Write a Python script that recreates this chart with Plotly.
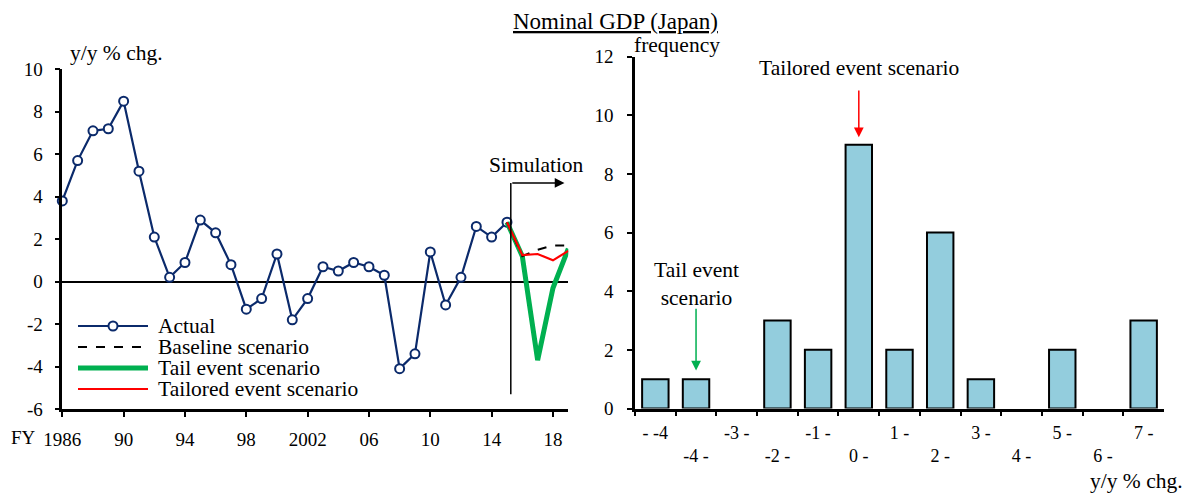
import plotly.graph_objects as go

# left panel: nominal GDP, y/y % chg.
years = list(range(1986, 2016))
actual = [3.8, 5.7, 7.1, 7.2, 8.5, 5.2, 2.1, 0.2, 0.9, 2.9, 2.3, 0.8, -1.3, -0.8, 1.3,
          -1.8, -0.8, 0.7, 0.5, 0.9, 0.7, 0.3, -4.1, -3.4, 1.4, -1.1, 0.2, 2.6, 2.1, 2.8]
sim_years = [2015, 2016, 2017, 2018, 2019]
baseline = [2.8, 1.2, 1.5, 1.7, 1.7]
tail = [2.8, 1.2, -3.7, -0.3, 1.55]
tailored = [2.8, 1.25, 1.3, 1.0, 1.45]
year_ticks = [1986, 1990, 1994, 1998, 2002, 2006, 2010, 2014, 2018]
year_labels = ["1986", "90", "94", "98", "2002", "06", "10", "14", "18"]
y_ticks = [-6, -4, -2, 0, 2, 4, 6, 8, 10]

# right panel: histogram of growth rates
bins = ["- -4", "-4 -", "-3 -", "-2 -", "-1 -", "0 -", "1 -", "2 -", "3 -", "4 -", "5 -", "6 -", "7 -"]
freq = [1, 1, 0, 3, 2, 9, 2, 6, 1, 0, 2, 0, 3]
freq_ticks = [0, 2, 4, 6, 8, 10, 12]

# the page body has an 8px margin, so the figure starts at (8, 8) in the window;
# window pixel positions are converted to figure-paper fractions
OFF = 8
W, H = 1192 - OFF, 493 - OFF
FONT = "Liberation Serif"


def px(x):
    return (x - OFF) / W


def py(y):
    return 1 - (y - OFF) / H


navy = "#0b2a6b"
green = "#00b050"
red = "#ff0000"

fig = go.Figure()
fig.add_trace(go.Scatter(x=years, y=actual, mode="lines+markers", name="Actual",
                         line=dict(color=navy, width=2.2),
                         marker=dict(symbol="circle", size=9, color="white",
                                     line=dict(color=navy, width=2)),
                         cliponaxis=False, xaxis="x", yaxis="y"))
fig.add_trace(go.Scatter(x=sim_years, y=tail, mode="lines", name="Tail event scenario",
                         line=dict(color=green, width=5), xaxis="x", yaxis="y"))
fig.add_trace(go.Scatter(x=sim_years, y=baseline, mode="lines", name="Baseline scenario",
                         line=dict(color="black", width=2, dash="dash"), xaxis="x", yaxis="y"))
fig.add_trace(go.Scatter(x=sim_years, y=tailored, mode="lines", name="Tailored event scenario",
                         line=dict(color=red, width=2.2), xaxis="x", yaxis="y"))

# empty bins get no outline, as in the original
fig.add_trace(go.Bar(x=bins, y=freq, name="frequency",
                     marker=dict(color="#93cddd",
                                 line=dict(color="black", width=[2 if f > 0 else 0 for f in freq])),
                     xaxis="x2", yaxis="y2"))

bin_text = [b if i % 2 == 0 else "<br>" + b for i, b in enumerate(bins)]

axis_common = dict(showline=True, linecolor="black", linewidth=2.5, ticks="outside",
                   ticklen=5, tickwidth=2, tickcolor="black", showgrid=False, automargin=False,
                   tickfont=dict(family=FONT, size=19, color="black"))

fig.update_layout(
    width=W, height=H, showlegend=False,
    margin=dict(l=0, r=0, t=0, b=0, pad=0, autoexpand=False),
    paper_bgcolor="white", plot_bgcolor="white",
    font=dict(family=FONT, size=21.5, color="black"),
    bargap=0.35,
    xaxis=dict(domain=[px(62.3), px(568.3)], range=[1986, 2019], tickvals=year_ticks,
               ticktext=year_labels, zeroline=False, anchor="y", ticklabelstandoff=6,
               **axis_common),
    yaxis=dict(domain=[py(409), py(69.3)], range=[-6, 10], tickvals=y_ticks,
               ticktext=[str(v) for v in y_ticks], zeroline=True, zerolinecolor="black",
               zerolinewidth=1.5, anchor="x", ticklabelstandoff=8, **axis_common),
    xaxis2=dict(domain=[px(635), px(1164)], type="category", range=[-0.5, 12.5],
                tickson="boundaries", tickvals=bins, ticktext=bin_text, anchor="y2",
                ticklabelstandoff=6,
                **{**axis_common, "tickfont": dict(family=FONT, size=18, color="black")}),
    yaxis2=dict(domain=[py(408.5), py(56.7)], range=[0, 12], tickvals=freq_ticks,
                ticktext=[str(v) for v in freq_ticks], zeroline=False, anchor="x2",
                ticklabelstandoff=10, **axis_common),
)

# simulation marker
fig.add_shape(type="line", xref="x", yref="y", x0=2015.25, x1=2015.25, y0=-5.3, y1=4.65,
              line=dict(color="black", width=1.5))


def note(text, x, y, xref="paper", yref="paper", xanchor="center", **kw):
    return dict(text=text, x=x, y=y, xref=xref, yref=yref, xanchor=xanchor,
                yanchor="middle", showarrow=False, **kw)


def arrow(x, y, ax, ay, xref, yref, color):
    return dict(text="", x=x, y=y, ax=ax, ay=ay, xref=xref, yref=yref, axref=xref,
                ayref=yref, showarrow=True, arrowhead=2, arrowsize=1.3, arrowwidth=1.5,
                arrowcolor=color)


ann = [
    note("<u>Nominal GDP (Japan)</u>", px(615), py(21), font=dict(size=23)),
    note("y/y % chg.", px(68), py(53), xanchor="left"),
    note("FY", px(23), py(437), font=dict(size=19)),
    note("Simulation", 2016.9, 5.5, xref="x", yref="y"),
    arrow(2018.75, 4.65, 2015.25, 4.65, "x", "y", "black"),
    note("frequency", px(632), py(45), xanchor="left"),
    note("Tailored event scenario", 5, 11.6, xref="x2", yref="y2"),
    arrow(5, 9.25, 5, 10.9, "x2", "y2", red),
    note("Tail event<br>scenario", 1, 4.25, xref="x2", yref="y2"),
    arrow(1, 1.3, 1, 3.45, "x2", "y2", green),
    note("y/y % chg.", px(1185), py(481), xanchor="right"),
]

# legend drawn by hand to match the long sample lines of the original
legend_items = [("Actual", navy, 2.2, "solid", 326),
                ("Baseline scenario", "black", 2, "dash", 347),
                ("Tail event scenario", green, 5, "solid", 368),
                ("Tailored event scenario", red, 2.2, "solid", 389)]
for label, color, width, dash, yy in legend_items:
    fig.add_shape(type="line", xref="paper", yref="paper", x0=px(78), x1=px(148),
                  y0=py(yy), y1=py(yy), line=dict(color=color, width=width, dash=dash))
    ann.append(note(label, px(156), py(yy), xanchor="left"))
fig.add_shape(type="circle", xref="paper", yref="paper", x0=px(108.5), x1=px(117.5),
              y0=py(330.5), y1=py(321.5), fillcolor="white", line=dict(color=navy, width=2))

fig.update_layout(annotations=ann)
fig.write_html("out.html")
